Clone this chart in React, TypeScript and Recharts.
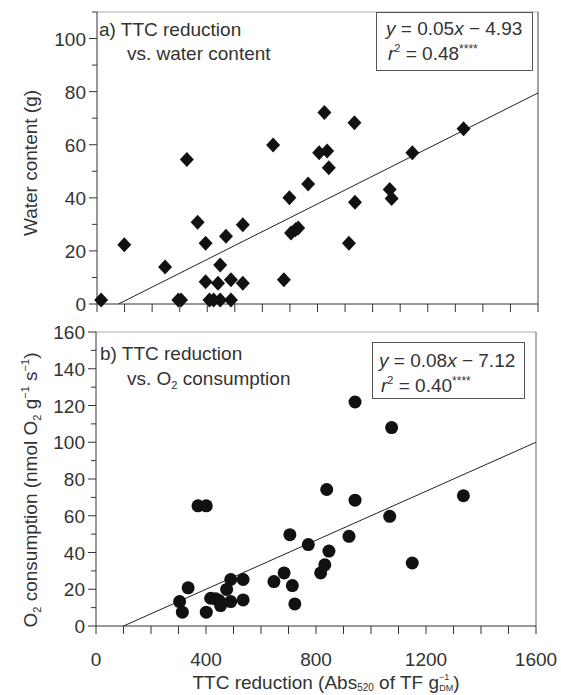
import React from 'react'
import { ScatterChart, Scatter, XAxis, YAxis, ReferenceLine } from 'recharts'

// panel a) TTC reduction vs water content
const ttcA = [15, 99, 247, 295, 305, 326, 365, 394, 394, 408, 423, 447, 439, 447, 468, 486, 486, 529, 529, 639, 678, 698, 704, 720, 730, 766, 806, 825, 835, 841, 914, 934, 936, 1062, 1069, 1144, 1330]
const waterA = [1.5, 22.3, 13.9, 1.5, 1.5, 54.4, 30.8, 22.9, 8.4, 1.5, 1.5, 1.5, 7.8, 14.7, 25.5, 9.1, 1.5, 29.9, 7.8, 59.9, 9.1, 40.0, 26.7, 28.0, 28.6, 45.2, 57.0, 72.1, 57.6, 51.3, 22.9, 68.3, 38.3, 43.1, 39.7, 57.0, 66.0]

// panel b) TTC reduction vs O2 consumption
const ttcB = [942, 1075, 839, 942, 1336, 371, 401, 1068, 705, 772, 920, 847, 832, 817, 1150, 684, 647, 714, 723, 490, 535, 335, 475, 304, 314, 401, 417, 435, 453, 447, 490, 535]
const o2B = [121.9, 108, 74.3, 68.5, 70.9, 65.4, 65.4, 59.7, 49.7, 44.3, 48.8, 40.8, 33.3, 28.9, 34.3, 28.9, 24.2, 22.0, 12.0, 25.3, 25.3, 20.8, 19.9, 13.3, 7.5, 7.5, 15.1, 14.8, 11.1, 13.9, 13.3, 14.2]

// fitted lines as drawn (end points)
const fitAx = [78, 1600]
const fitAy = [0, 79.5]
const fitBx = [100, 1600]
const fitBy = [0, 100]

const xTicks = [0, 100, 200, 300, 400, 500, 600, 700, 800, 900, 1000, 1100, 1200, 1300, 1400, 1500, 1600]
const xLabels = [0, 400, 800, 1200, 1600]
const yTicksA = [0, 10, 20, 30, 40, 50, 60, 70, 80, 90, 100, 110]
const yLabelsA = [0, 20, 40, 60, 80, 100]
const yTicksB = [0, 10, 20, 30, 40, 50, 60, 70, 80, 90, 100, 110, 120, 130, 140, 150, 160]
const yLabelsB = [0, 20, 40, 60, 80, 100, 120, 140, 160]

const FONT = '"Liberation Sans", Arial, Helvetica, sans-serif'
const INK = '#333'
const AXIS = '#333'

const toPoints = (xs: number[], ys: number[]) => xs.map((x, i) => ({ x, y: ys[i] }))

function XTick({ x, y, payload, labels }: any) {
	const v = payload.value
	return (
		<g>
			<line x1={x} x2={x} y1={y} y2={y + 8} stroke={AXIS} />
			{labels.includes(v) && (
				<text x={x} y={y + 40} textAnchor="middle" fontSize={19} fill={INK} fontFamily={FONT}>
					{v}
				</text>
			)}
		</g>
	)
}

function YTick({ x, y, payload, labels }: any) {
	const v = payload.value
	const major = labels.includes(v)
	return (
		<g>
			<line x1={x - (major ? 8 : 5)} x2={x} y1={y} y2={y} stroke={AXIS} />
			{major && (
				<text x={x - 11} y={y + 7} textAnchor="end" fontSize={19} fill={INK} fontFamily={FONT}>
					{v}
				</text>
			)}
		</g>
	)
}

const Diamond = ({ cx, cy }: any) => (
	<path d={`M${cx},${cy - 7.5}L${cx + 7},${cy}L${cx},${cy + 7.5}L${cx - 7},${cy}Z`} fill="#111" />
)
const Dot = ({ cx, cy }: any) => <circle cx={cx} cy={cy} r={6.5} fill="#111" />
const NoMark = () => <g />

export default function App() {
	const dataA = toPoints(ttcA, waterA)
	const dataB = toPoints(ttcB, o2B)
	const lineA = toPoints(fitAx, fitAy)
	const lineB = toPoints(fitBx, fitBy)

	return (
		<div style={{ position: 'absolute', left: 0, top: 0, width: 561, height: 695, background: '#fff' }}>
			<div style={{ position: 'absolute', left: 0, top: 0 }}>
				<ScatterChart width={561} height={320} margin={{ top: 12, right: 23, bottom: 6, left: 37 }}>
					<XAxis
						type="number"
						dataKey="x"
						domain={[0, 1600]}
						ticks={xTicks}
						interval={0}
						height={10}
						tickSize={0}
						tickMargin={0}
						tickLine={false}
						axisLine={{ stroke: AXIS }}
						tick={<XTick labels={[]} />}
					/>
					<YAxis
						type="number"
						dataKey="y"
						domain={[0, 110]}
						ticks={yTicksA}
						interval={0}
						width={60}
						tickSize={0}
						tickMargin={0}
						tickLine={false}
						axisLine={{ stroke: AXIS }}
						tick={<YTick labels={yLabelsA} />}
					/>
					<ReferenceLine y={110} stroke="#aaa" />
					<ReferenceLine x={1600} stroke="#444" />
					<Scatter data={lineA} line={{ stroke: '#222', strokeWidth: 1 }} shape={NoMark} isAnimationActive={false} />
					<Scatter data={dataA} shape={Diamond} isAnimationActive={false} />
				</ScatterChart>
			</div>
			<div style={{ position: 'absolute', left: 0, top: 320 }}>
				<ScatterChart width={561} height={375} margin={{ top: 12, right: 25, bottom: 24, left: 36 }}>
					<XAxis
						type="number"
						dataKey="x"
						domain={[0, 1600]}
						ticks={xTicks}
						interval={0}
						height={45}
						tickSize={0}
						tickMargin={0}
						tickLine={false}
						axisLine={{ stroke: AXIS }}
						tick={<XTick labels={xLabels} />}
					/>
					<YAxis
						type="number"
						dataKey="y"
						domain={[0, 160]}
						ticks={yTicksB}
						interval={0}
						width={60}
						tickSize={0}
						tickMargin={0}
						tickLine={false}
						axisLine={{ stroke: AXIS }}
						tick={<YTick labels={yLabelsB} />}
					/>
					<ReferenceLine y={160} stroke="#aaa" />
					<ReferenceLine x={1600} stroke="#666" />
					<Scatter data={lineB} line={{ stroke: '#222', strokeWidth: 1 }} shape={NoMark} isAnimationActive={false} />
					<Scatter data={dataB} shape={Dot} isAnimationActive={false} />
				</ScatterChart>
			</div>

			{/* titles, panel notes and equation boxes */}
			<svg
				width={561}
				height={695}
				style={{ position: 'absolute', left: 0, top: 0, pointerEvents: 'none' }}
				fontFamily={FONT}
				fill={INK}
			>
				<text x={99} y={36} fontSize={19}>a) TTC reduction</text>
				<text x={127} y={60} fontSize={19}>vs. water content</text>
				<rect x={376.5} y={12.5} width={156} height={58} fill="#fff" stroke="#555" />
				<text x={386} y={35} fontSize={19}>
					<tspan fontStyle="italic">y</tspan> = 0.05<tspan fontStyle="italic">x</tspan> − 4.93
				</text>
				<text x={388} y={60} fontSize={19}>
					<tspan fontStyle="italic">r</tspan>
					<tspan dy={-8} fontSize={11}>2</tspan>
					<tspan dy={8}> = 0.48</tspan>
					<tspan dy={-7} fontSize={12}>****</tspan>
				</text>

				<text x={100} y={360} fontSize={19}>b) TTC reduction</text>
				<text x={127} y={385} fontSize={19}>
					vs. O<tspan dy={4} fontSize={11}>2</tspan>
					<tspan dy={-4}> consumption</tspan>
				</text>
				<rect x={372.5} y={342.5} width={152} height={56} fill="#fff" stroke="#555" />
				<text x={379} y={367} fontSize={19}>
					<tspan fontStyle="italic">y</tspan> = 0.08<tspan fontStyle="italic">x</tspan> − 7.12
				</text>
				<text x={381} y={392} fontSize={19}>
					<tspan fontStyle="italic">r</tspan>
					<tspan dy={-8} fontSize={11}>2</tspan>
					<tspan dy={8}> = 0.40</tspan>
					<tspan dy={-7} fontSize={12}>****</tspan>
				</text>

				<text transform="translate(37,163) rotate(-90)" textAnchor="middle" fontSize={19}>
					Water content (g)
				</text>
				<text transform="translate(37,490) rotate(-90)" textAnchor="middle" fontSize={19}>
					O<tspan dy={4} fontSize={11}>2</tspan>
					<tspan dy={-4}> consumption (nmol O</tspan>
					<tspan dy={4} fontSize={11}>2</tspan>
					<tspan dy={-4}> g</tspan>
					<tspan dy={-8} fontSize={11}>−1</tspan>
					<tspan dy={8}> s</tspan>
					<tspan dy={-8} fontSize={11}>−1</tspan>
					<tspan dy={8}>)</tspan>
				</text>

				<text x={326} y={689} textAnchor="middle" fontSize={19}>
					TTC reduction (Abs<tspan dy={2} fontSize={10}>520</tspan>
					<tspan dy={-2}> of TF g</tspan>
					<tspan dy={-9} fontSize={9}>−1</tspan>
					<tspan dx={-10} dy={11} fontSize={9}>DM</tspan>
					<tspan dy={-2}>)</tspan>
				</text>
			</svg>
		</div>
	)
}
